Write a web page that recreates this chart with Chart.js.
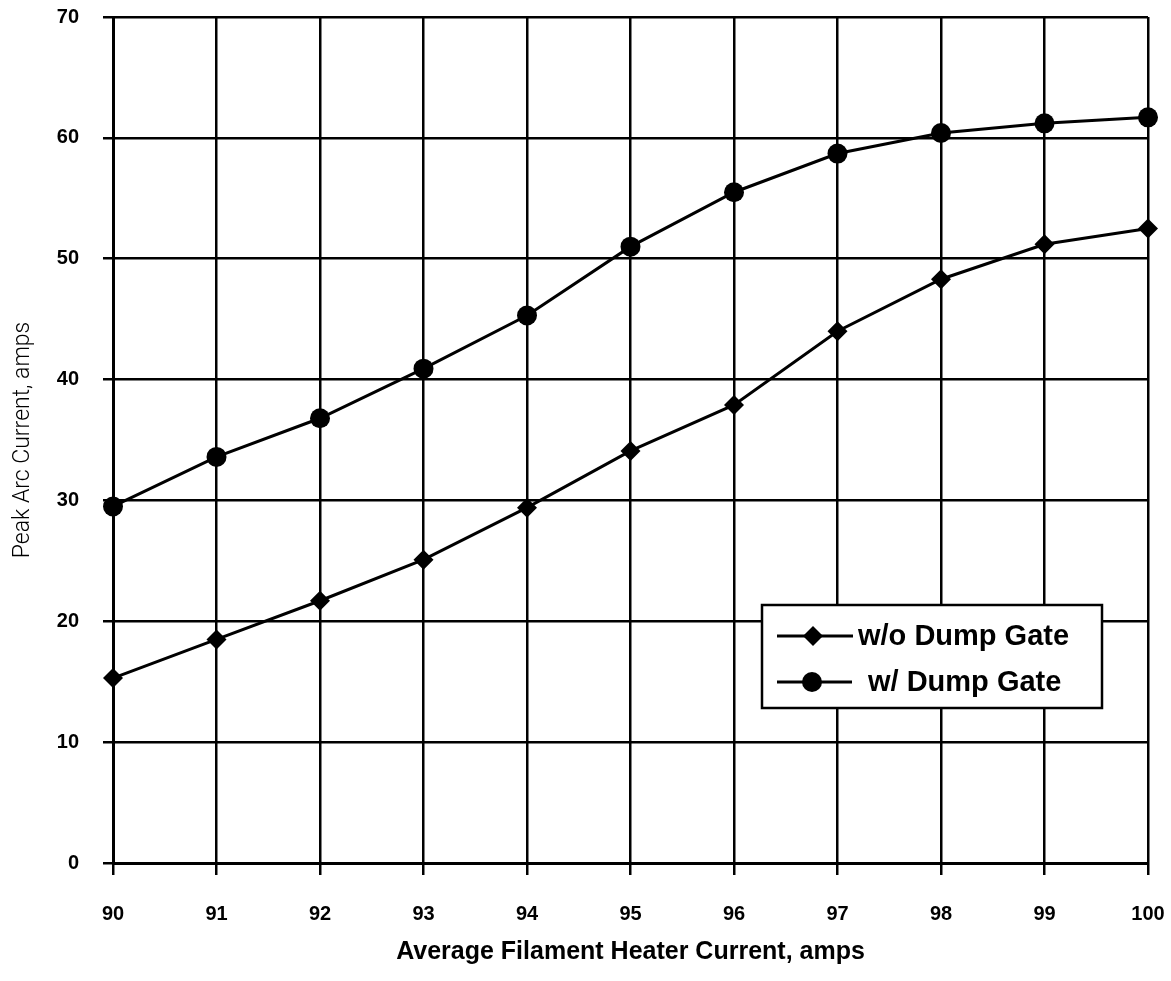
<!DOCTYPE html>
<html><head><meta charset="utf-8">
<script src="https://cdn.jsdelivr.net/npm/chart.js@4.4.1/dist/chart.umd.min.js"></script>
<style>html,body{margin:0;padding:0;background:#fff}#wrap{width:1171px;height:981px}canvas{display:block}</style>
</head><body><div id="wrap"><canvas id="c" width="1171" height="981"></canvas></div>
<script>
const heaterCurrent = [90, 91, 92, 93, 94, 95, 96, 97, 98, 99, 100];
const withoutDumpGate = [15.3, 18.5, 21.7, 25.1, 29.4, 34.1, 37.9, 44.0, 48.3, 51.2, 52.5];
const withDumpGate = [29.5, 33.6, 36.8, 40.9, 45.3, 51.0, 55.5, 58.7, 60.4, 61.2, 61.7];
const yTickValues = [0, 10, 20, 30, 40, 50, 60, 70];
const xTickValues = [90, 91, 92, 93, 94, 95, 96, 97, 98, 99, 100];
const seriesLabels = ['w/o Dump Gate', 'w/ Dump Gate'];
const xTitle = 'Average Filament Heater Current, amps';
const yTitle = 'Peak Arc Current, amps';

const toPoints = (ys) => heaterCurrent.map((x, i) => ({x: x, y: ys[i]}));

const bgPlugin = {
  id: 'bg',
  beforeDraw(chart) {
    const ctx = chart.ctx;
    ctx.save(); ctx.fillStyle = '#fff'; ctx.fillRect(0, 0, chart.width, chart.height); ctx.restore();
  }
};

const legendPlugin = {
  id: 'boxLegend',
  afterDraw(chart) {
    const ctx = chart.ctx;
    ctx.save();
    const bx = 762, by = 605, bw = 340, bh = 103;
    ctx.fillStyle = '#fff';
    ctx.fillRect(bx, by, bw, bh);
    ctx.strokeStyle = '#000';
    ctx.lineWidth = 2.5;
    ctx.strokeRect(bx, by, bw, bh);
    const rows = [
      {y: 636, x0: 777, x1: 853, mx: 813, tx: 858},
      {y: 682, x0: 777, x1: 852, mx: 812, tx: 868}
    ];
    chart.data.datasets.forEach((ds, i) => {
      const r = rows[i];
      ctx.strokeStyle = '#000';
      ctx.lineWidth = 3;
      ctx.beginPath(); ctx.moveTo(r.x0, r.y); ctx.lineTo(r.x1, r.y); ctx.stroke();
      ctx.fillStyle = '#000';
      ctx.beginPath();
      if (ds.pointStyle === 'rectRot') {
        const s = ds.pointRadius;
        ctx.moveTo(r.mx, r.y - s); ctx.lineTo(r.mx + s, r.y); ctx.lineTo(r.mx, r.y + s); ctx.lineTo(r.mx - s, r.y); ctx.closePath();
      } else {
        ctx.arc(r.mx, r.y, ds.pointRadius, 0, Math.PI * 2);
      }
      ctx.fill();
      ctx.font = 'bold 29px "Liberation Sans", Arial, sans-serif';
      ctx.textBaseline = 'middle';
      ctx.textAlign = 'left';
      ctx.fillText(ds.label, r.tx, r.y + 1);
    });
    ctx.restore();
  }
};

new Chart(document.getElementById('c'), {
  type: 'line',
  data: {
    datasets: [
      {
        label: seriesLabels[0],
        data: toPoints(withoutDumpGate),
        borderColor: '#000', backgroundColor: '#000', borderWidth: 3,
        pointStyle: 'rectRot', pointRadius: 10, pointHoverRadius: 10,
        pointBackgroundColor: '#000', pointBorderColor: '#000', pointBorderWidth: 0,
        tension: 0, clip: false
      },
      {
        label: seriesLabels[1],
        data: toPoints(withDumpGate),
        borderColor: '#000', backgroundColor: '#000', borderWidth: 3,
        pointStyle: 'circle', pointRadius: 10, pointHoverRadius: 10,
        pointBackgroundColor: '#000', pointBorderColor: '#000', pointBorderWidth: 0,
        tension: 0, clip: false
      }
    ]
  },
  options: {
    responsive: false,
    animation: false,
    devicePixelRatio: 1,
    layout: {padding: 0},
    plugins: {legend: {display: false}, tooltip: {enabled: false}},
    scales: {
      x: {
        type: 'linear', min: 90, max: 100,
        afterFit(scale) { scale.height = 118; scale.paddingLeft = 0; scale.paddingRight = 23; },
        afterBuildTicks(scale) { scale.ticks = xTickValues.map(v => ({value: v})); },
        ticks: {
          stepSize: 1, color: '#000', padding: 27,
          font: {family: '"Liberation Sans", Arial, sans-serif', size: 20, weight: 'bold'},
          maxRotation: 0, autoSkip: false
        },
        grid: {color: '#000', lineWidth: 2.5, tickLength: 12, tickWidth: 2.5, tickColor: '#000'},
        border: {display: true, color: '#000', width: 3},
        title: {
          display: true, text: xTitle, color: '#000',
          font: {family: '"Liberation Sans", Arial, sans-serif', size: 25, weight: 'bold'},
          padding: {top: 0, bottom: 14}
        }
      },
      y: {
        type: 'linear', min: 0, max: 70,
        afterFit(scale) { scale.width = 113; scale.paddingTop = 17; scale.paddingBottom = 0; },
        afterBuildTicks(scale) { scale.ticks = yTickValues.map(v => ({value: v})); },
        ticks: {
          stepSize: 10, color: '#000', padding: 24,
          font: {family: '"Liberation Sans", Arial, sans-serif', size: 20, weight: 'bold'}
        },
        grid: {color: '#000', lineWidth: 2.5, tickLength: 10, tickWidth: 2.5, tickColor: '#000'},
        border: {display: true, color: '#000', width: 3},
        title: {
          display: true, text: yTitle, color: '#000',
          font: {family: 'Roboto, "Liberation Sans", sans-serif', size: 23, weight: '300'},
          padding: {top: 9, bottom: 0}
        }
      }
    }
  },
  plugins: [bgPlugin, legendPlugin]
});
</script>
</body></html>
